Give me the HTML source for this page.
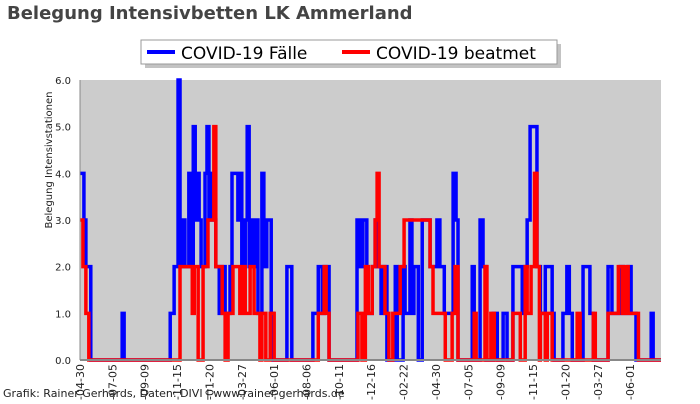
<!DOCTYPE html>
<html><head><meta charset="utf-8"><style>
body{margin:0;background:#fff;width:700px;height:400px;overflow:hidden;font-family:"DejaVu Sans","Liberation Sans",sans-serif}
</style></head><body>
<svg id="c" width="700" height="400" xmlns="http://www.w3.org/2000/svg" font-family="DejaVu Sans, Liberation Sans, sans-serif">
<text x="7" y="19" font-size="18" font-weight="bold" fill="#444">Belegung Intensivbetten LK Ammerland</text>
<rect x="80" y="80" width="581" height="280" fill="#cccccc"/>
<g id="series"></g>
<line x1="80" y1="80" x2="80" y2="360" stroke="#888"/>
<line x1="80" y1="360" x2="661" y2="360" stroke="#888" stroke-width="2"/>
<g id="ticks"></g>
<text transform="translate(52,160) rotate(-90)" text-anchor="middle" font-size="10" fill="#222">Belegung Intensivstationen</text>
<g>
<rect x="145" y="44" width="416" height="24" fill="#888" opacity="0.5"/>
<rect x="141" y="40" width="416" height="24" fill="#fff" stroke="#999"/>
<g><line x1="147" y1="52" x2="175" y2="52" stroke="#0000ff" stroke-width="4"/><text x="181" y="59" font-size="17" fill="#000">COVID-19 Fälle</text></g>
<g><line x1="342" y1="52" x2="370" y2="52" stroke="#ff0000" stroke-width="4"/><text x="376" y="59" font-size="17" fill="#000">COVID-19 beatmet</text></g>
</g>
<text x="3" y="397" font-size="11" fill="#222">Grafik: Rainer Gerhards, Daten: DIVI | www.rainer-gerhards.de</text>
</svg>
<script>
const blueDays=[0,8,12,22,86,90,184,192,200,204,210,214,222,226,231,235,239,243,247,255,259,263,269,273,277,284,290,296,306,310,322,326,330,337,341,345,351,355,359,363,371,375,381,390,394,422,432,475,486,494,498,508,565,571,577,585,596,602,608,614,620,626,643,647,659,663,673,677,681,690,698,714,728,734,743,755,761,767,771,800,804,816,822,828,843,851,863,871,883,902,906,912,918,932,939,949,963,967,985,993,998,1004,1026,1040,1047,1077,1085,1102,1108,1118,1124,1134,1165,1169];
const blueVals=[4,3,2,0,1,0,1,2,6,2,3,2,4,2,5,3,4,3,2,4,5,3,4,3,2,1,2,1,2,4,3,4,2,3,5,2,3,2,3,1,4,2,3,1,0,2,0,1,2,1,2,0,3,2,3,1,2,3,2,1,2,0,2,0,2,1,3,1,2,0,3,2,3,2,1,1,4,3,0,2,0,3,2,0,1,0,1,0,2,1,2,3,5,2,1,2,1,0,1,2,1,0,2,1,0,2,1,2,1,2,1,0,1,0];
const redDays=[0,6,12,18,200,204,229,233,241,251,261,273,277,290,296,302,312,326,330,337,347,355,367,371,379,388,396,486,498,502,508,567,575,582,588,596,602,606,610,622,630,638,653,661,694,714,720,745,759,765,771,804,808,826,830,838,845,883,898,908,912,920,927,932,937,939,949,953,963,1014,1020,1047,1051,1077,1098,1106,1112,1118,1139];
const redVals=[3,2,1,0,0,2,1,2,0,2,3,5,2,1,0,1,2,1,2,1,2,1,0,1,0,1,0,1,2,1,0,1,0,2,1,2,3,4,2,1,0,1,2,3,3,2,1,0,1,2,0,1,0,2,0,1,0,1,0,2,1,2,4,2,0,1,0,1,0,1,0,1,0,1,2,1,2,1,0];
const yTicks=[0,1,2,3,4,5,6];
const xTickLabels=["2020-04-30","2020-07-05","2020-09-09","2020-11-15","2021-01-20","2021-03-27","2021-06-01","2021-08-06","2021-10-11","2021-12-16","2022-02-22","2022-04-30","2022-07-05","2022-09-09","2022-11-15","2023-01-20","2023-03-27","2023-06-01"];
const xTickDays=[0,66,132,198,264,330,396,462,528,594,660,726,792,858,924,990,1056,1122];
const NS="http://www.w3.org/2000/svg";
const totalDays=1185;
const xs=d=>80+d*581/totalDays;
const ys=v=>360-v*280/6;
const ticks=document.getElementById('ticks');
yTicks.forEach(v=>{
  const t=document.createElementNS(NS,'text');
  t.setAttribute('x',71);t.setAttribute('y',ys(v)+4);
  t.setAttribute('text-anchor','end');t.setAttribute('font-size','10');t.setAttribute('fill','#222');
  t.textContent=v.toFixed(1);
  
  
  ticks.appendChild(t);
});
xTickDays.forEach((d,i)=>{
  const t=document.createElementNS(NS,'text');
  const x=xs(d);
  t.setAttribute('transform','translate('+(x+4)+',364) rotate(-90)');
  t.setAttribute('text-anchor','end');t.setAttribute('font-size','11');t.setAttribute('fill','#222');
  t.textContent=xTickLabels[i];
  
  
  ticks.appendChild(t);
});
function stepPath(days,vals){
  let p='M'+xs(days[0])+','+ys(vals[0]);
  for(let i=1;i<days.length;i++){p+=' H'+xs(days[i])+' V'+ys(vals[i]);}
  p+=' H'+xs(totalDays);
  return p;
}
const g=document.getElementById('series');
[[blueDays,blueVals,'#0000ff','series-faelle'],[redDays,redVals,'#ff0000','series-beatmet']].forEach(s=>{
  const p=document.createElementNS(NS,'path');
  p.setAttribute('d',stepPath(s[0],s[1]));
  p.setAttribute('fill','none');p.setAttribute('stroke',s[2]);p.setAttribute('stroke-width','3.5');
  
  
  g.appendChild(p);
});
</script>
</body></html>
